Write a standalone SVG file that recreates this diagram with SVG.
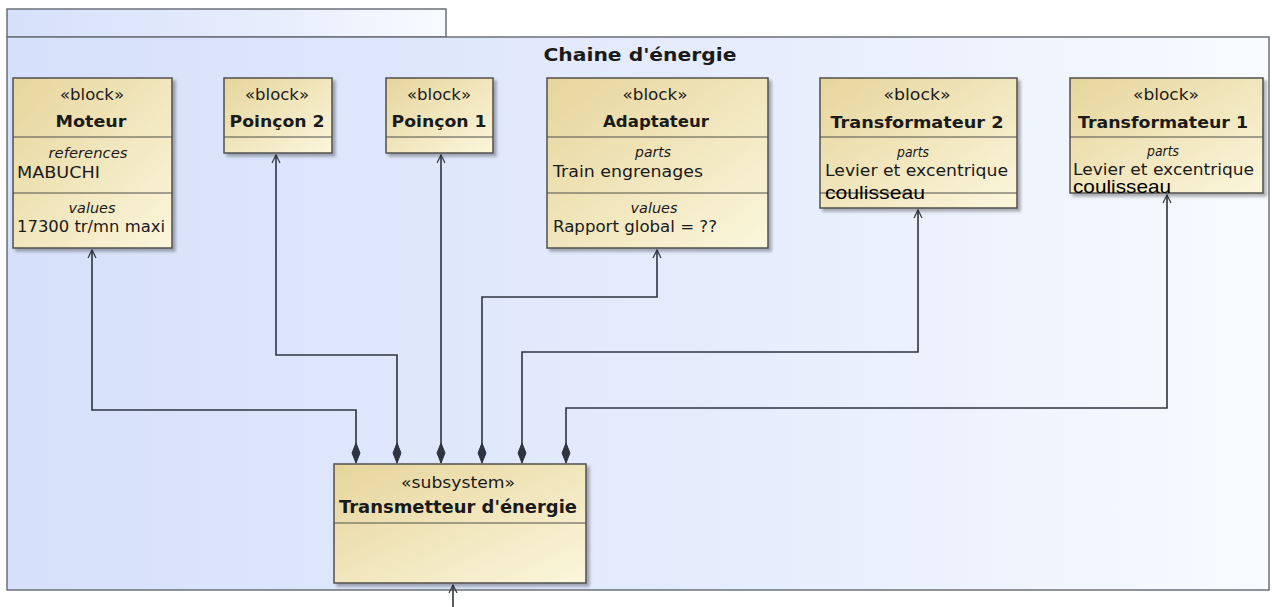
<svg xmlns="http://www.w3.org/2000/svg" width="1272" height="607" viewBox="0 0 1272 607">
<defs>
<linearGradient id="frameG" x1="0" y1="0" x2="1" y2="0">
<stop offset="0" stop-color="#d6e0fa"/>
<stop offset="0.6" stop-color="#e6edfc"/>
<stop offset="1" stop-color="#f8fbff"/>
</linearGradient>
<linearGradient id="blockG" x1="0" y1="0" x2="1" y2="1">
<stop offset="0" stop-color="#e6d59c"/>
<stop offset="1" stop-color="#fbf6dc"/>
</linearGradient>
<marker id="open" viewBox="0 0 10 10" refX="9" refY="5" markerWidth="10" markerHeight="10" markerUnits="userSpaceOnUse" orient="auto">
<path d="M1,1 L9,5 L1,9" fill="none" stroke="#3a3f4a" stroke-width="1.3"/>
</marker>
<marker id="dia" viewBox="0 0 22 10" refX="21" refY="5" markerWidth="22" markerHeight="10" markerUnits="userSpaceOnUse" orient="auto">
<path d="M1,5 L11,1 L21,5 L11,9 Z" fill="#2e3440" stroke="#2e3440" stroke-width="1"/>
</marker>
<filter id="sh" x="-5%" y="-5%" width="115%" height="115%">
<feDropShadow dx="3" dy="3" stdDeviation="1.5" flood-color="#000" flood-opacity="0.3"/>
</filter>
</defs>
<style>
.frame{fill:url(#frameG);stroke:#6b7079;stroke-width:1.5}
.box{fill:url(#blockG);stroke:#4f4f4d;stroke-width:1.5;filter:url(#sh)}
.div{stroke:#4f4f4d;stroke-width:1.2}
text{font-family:"DejaVu Sans","Liberation Sans",sans-serif;fill:#1a1a1a}
.st{font-size:16px;text-anchor:middle}
.nm{font-size:16.5px;font-weight:bold;text-anchor:middle}
.cp{font-size:13.5px;font-style:italic;text-anchor:middle}
.it{font-size:16px}
.ov{font-family:"Liberation Sans",Arial,sans-serif;font-size:19px;fill:#000}
.title{font-size:18px;font-weight:bold;text-anchor:middle}
.c{fill:none;stroke:#2e3440;stroke-width:1.6}
</style>
<g id="frame">
<rect class="frame" x="7" y="9" width="439" height="28"/>
<rect class="frame" x="7" y="37" width="1262" height="553"/>
<text class="title" x="640" y="61" textLength="193" lengthAdjust="spacingAndGlyphs">Chaine d'énergie</text>
</g>
<g id="connectors">
<path class="c" d="M356,441 V410 H92 V250" marker-end="url(#open)"/>
<path class="c" d="M397,441 V355 H276 V155" marker-end="url(#open)"/>
<path class="c" d="M441,441 V155" marker-end="url(#open)"/>
<path class="c" d="M482,441 V297 H657 V250" marker-end="url(#open)"/>
<path class="c" d="M522,441 V352 H918 V210" marker-end="url(#open)"/>
<path class="c" d="M566,441 V408 H1167 V195" marker-end="url(#open)"/>
<path class="c" d="M356,441 V463" marker-end="url(#dia)"/>
<path class="c" d="M397,441 V463" marker-end="url(#dia)"/>
<path class="c" d="M441,441 V463" marker-end="url(#dia)"/>
<path class="c" d="M482,441 V463" marker-end="url(#dia)"/>
<path class="c" d="M522,441 V463" marker-end="url(#dia)"/>
<path class="c" d="M566,441 V463" marker-end="url(#dia)"/>
<path class="c" d="M453,607 V585" marker-end="url(#open)"/>
</g>
<g id="moteur">
<rect class="box" x="13" y="78" width="159" height="170"/>
<line class="div" x1="13" y1="137" x2="172" y2="137"/>
<line class="div" x1="13" y1="193" x2="172" y2="193"/>
<text class="st" x="92" y="100" textLength="64" lengthAdjust="spacingAndGlyphs">«block»</text>
<text class="nm" x="91" y="127" textLength="71" lengthAdjust="spacingAndGlyphs">Moteur</text>
<text class="cp" x="88" y="158" textLength="79" lengthAdjust="spacingAndGlyphs">references</text>
<text class="it" x="17" y="178" textLength="83" lengthAdjust="spacingAndGlyphs">MABUCHI</text>
<text class="cp" x="92" y="213" textLength="47" lengthAdjust="spacingAndGlyphs">values</text>
<text class="it" x="17" y="232" textLength="148" lengthAdjust="spacingAndGlyphs">17300 tr/mn maxi</text>
</g>
<g id="poincon2">
<rect class="box" x="224" y="78" width="108" height="75"/>
<line class="div" x1="224" y1="137" x2="332" y2="137"/>
<text class="st" x="277" y="100" textLength="64" lengthAdjust="spacingAndGlyphs">«block»</text>
<text class="nm" x="277" y="127" textLength="95" lengthAdjust="spacingAndGlyphs">Poinçon 2</text>
</g>
<g id="poincon1">
<rect class="box" x="386" y="78" width="107" height="75"/>
<line class="div" x1="386" y1="137" x2="493" y2="137"/>
<text class="st" x="439" y="100" textLength="64" lengthAdjust="spacingAndGlyphs">«block»</text>
<text class="nm" x="439" y="127" textLength="95" lengthAdjust="spacingAndGlyphs">Poinçon 1</text>
</g>
<g id="adaptateur">
<rect class="box" x="547" y="78" width="221" height="170"/>
<line class="div" x1="547" y1="137" x2="768" y2="137"/>
<line class="div" x1="547" y1="193" x2="768" y2="193"/>
<text class="st" x="655" y="100" textLength="65" lengthAdjust="spacingAndGlyphs">«block»</text>
<text class="nm" x="656" y="127" textLength="106" lengthAdjust="spacingAndGlyphs">Adaptateur</text>
<text class="cp" x="653" y="157" textLength="36" lengthAdjust="spacingAndGlyphs">parts</text>
<text class="it" x="553" y="177" textLength="150" lengthAdjust="spacingAndGlyphs">Train engrenages</text>
<text class="cp" x="654" y="213" textLength="47" lengthAdjust="spacingAndGlyphs">values</text>
<text class="it" x="553" y="232" textLength="164" lengthAdjust="spacingAndGlyphs">Rapport global = ??</text>
</g>
<g id="transformateur2">
<rect class="box" x="820" y="78" width="197" height="130"/>
<line class="div" x1="820" y1="137" x2="1017" y2="137"/>
<line class="div" x1="820" y1="193" x2="1017" y2="193"/>
<text class="st" x="917" y="100" textLength="67" lengthAdjust="spacingAndGlyphs">«block»</text>
<text class="nm" x="917" y="128" textLength="173" lengthAdjust="spacingAndGlyphs">Transformateur 2</text>
<text class="cp" x="913" y="157" textLength="32" lengthAdjust="spacingAndGlyphs">parts</text>
<text class="it" x="825" y="176" textLength="183" lengthAdjust="spacingAndGlyphs">Levier et excentrique</text>
<text class="ov" x="825" y="199" textLength="100" lengthAdjust="spacingAndGlyphs">coulisseau</text>
</g>
<g id="transformateur1">
<rect class="box" x="1070" y="78" width="193" height="115"/>
<line class="div" x1="1070" y1="137" x2="1263" y2="137"/>
<text class="st" x="1166" y="100" textLength="66" lengthAdjust="spacingAndGlyphs">«block»</text>
<text class="nm" x="1163" y="128" textLength="170" lengthAdjust="spacingAndGlyphs">Transformateur 1</text>
<text class="cp" x="1163" y="156" textLength="32" lengthAdjust="spacingAndGlyphs">parts</text>
<text class="it" x="1073" y="175" textLength="181" lengthAdjust="spacingAndGlyphs">Levier et excentrique</text>
<text class="ov" x="1073" y="193" textLength="98" lengthAdjust="spacingAndGlyphs">coulisseau</text>
</g>
<g id="transmetteur">
<rect class="box" x="334" y="464" width="252" height="119"/>
<line class="div" x1="334" y1="523" x2="586" y2="523"/>
<text class="st" x="458" y="488" textLength="114" lengthAdjust="spacingAndGlyphs">«subsystem»</text>
<text class="nm" x="458" y="513" style="font-size:17px" textLength="238" lengthAdjust="spacingAndGlyphs">Transmetteur d'énergie</text>
</g>
</svg>
